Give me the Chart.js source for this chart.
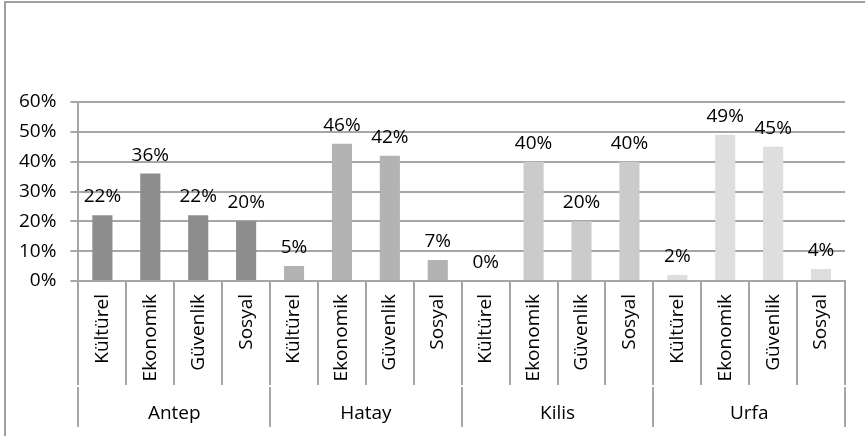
<!DOCTYPE html>
<html>
<head>
<meta charset="utf-8">
<script src="https://cdn.jsdelivr.net/npm/chart.js@4"></script>
<style>
  html, body { margin: 0; padding: 0; background: #fff; }
  #wrap { width: 865px; height: 436px; }
</style>
</head>
<body>
<div id="wrap"><canvas id="chart" width="865" height="436"></canvas></div>
<script>
// grouped bar chart: four cities, four topics each

const cities = ['Antep', 'Hatay', 'Kilis', 'Urfa'];
const topics = ['Kültürel', 'Ekonomik', 'Güvenlik', 'Sosyal'];
const antepValues = [22, 36, 22, 20];
const hatayValues = [5, 46, 42, 7];
const kilisValues = [0, 40, 20, 40];
const urfaValues = [2, 49, 45, 4];
const yTicks = [0, 10, 20, 30, 40, 50, 60];

const cityColors = ['#8d8d8d', '#b3b3b3', '#cbcbcb', '#dedede'];
const lineColor = '#a6a6a6';
const fontFamily = '"Open Sans", "Noto Sans", sans-serif';
const fontSize = 19;

const labels = [];
const values = [];
const colors = [];
[antepValues, hatayValues, kilisValues, urfaValues].forEach((arr, g) => {
    arr.forEach((v, i) => {
        labels.push(topics[i]);
        values.push(v);
        colors.push(cityColors[g]);
    });
});

const frame = {
    id: 'frame',
    beforeDraw(chart) {
        const c = chart.ctx;
        c.save();
        c.fillStyle = '#fff';
        c.fillRect(0, 0, chart.width, chart.height);
        c.strokeStyle = '#a0a0a0';
        c.lineWidth = 2;
        c.strokeRect(5, 2, chart.width + 20, chart.height + 20);
        c.restore();
    }
};

const valueLabels = {
    id: 'valueLabels',
    afterDatasetsDraw(chart) {
        const c = chart.ctx;
        const meta = chart.getDatasetMeta(0);
        c.save();
        c.font = fontSize + 'px ' + fontFamily;
        c.fillStyle = '#000';
        c.textAlign = 'center';
        c.textBaseline = 'alphabetic';
        meta.data.forEach((bar, i) => {
            c.fillText(values[i] + '%', bar.x, bar.y - 13);
        });
        c.restore();
    }
};

// category separators and the city row under the axis
const groupAxis = {
    id: 'groupAxis',
    afterDraw(chart) {
        const x = chart.scales.x;
        const c = chart.ctx;
        const step = x.width / labels.length;
        const top = chart.chartArea.bottom;
        const mid = x.bottom;
        c.save();
        c.strokeStyle = lineColor;
        c.lineWidth = 2;
        c.beginPath();
        for (let k = 0; k <= labels.length; k++) {
            const px = Math.round(x.left + k * step);
            c.moveTo(px, top);
            c.lineTo(px, mid);
        }
        for (let g = 0; g <= cities.length; g++) {
            const px = Math.round(x.left + g * topics.length * step);
            c.moveTo(px, mid + 2);
            c.lineTo(px, mid + 42);
        }
        c.stroke();
        c.font = fontSize + 'px ' + fontFamily;
        c.fillStyle = '#000';
        c.textAlign = 'center';
        c.textBaseline = 'middle';
        cities.forEach((name, g) => {
            const px = x.left + (g * topics.length + topics.length / 2) * step;
            c.fillText(name, px, mid + 29);
        });
        c.restore();
    }
};

new Chart(document.getElementById('chart'), {
    type: 'bar',
    data: {
        labels: labels,
        datasets: [{
            data: values,
            backgroundColor: colors,
            borderWidth: 0,
            categoryPercentage: 1,
            barPercentage: 0.42
        }]
    },
    options: {
        responsive: false,
        animation: false,
        layout: { padding: { top: 102, left: 5, right: 20, bottom: 51 } },
        plugins: {
            legend: { display: false },
            tooltip: { enabled: false }
        },
        scales: {
            x: {
                grid: { display: false, drawTicks: false },
                border: { display: true, color: lineColor, width: 2 },
                ticks: {
                    autoSkip: false,
                    minRotation: 90,
                    maxRotation: 90,
                    padding: 13,
                    color: '#000',
                    font: { family: fontFamily, size: fontSize }
                },
                afterFit(scale) { scale.height = 104; }
            },
            y: {
                min: 0,
                max: 60,
                afterBuildTicks(scale) { scale.ticks = yTicks.map(v => ({ value: v })); },
                grid: { color: lineColor, lineWidth: 2, tickLength: 8 },
                border: { display: true, color: lineColor, width: 2 },
                ticks: {
                    padding: 14,
                    color: '#000',
                    font: { family: fontFamily, size: fontSize },
                    callback: v => v + '%'
                }
            }
        }
    },
    plugins: [frame, valueLabels, groupAxis]
});
</script>
</body>
</html>
